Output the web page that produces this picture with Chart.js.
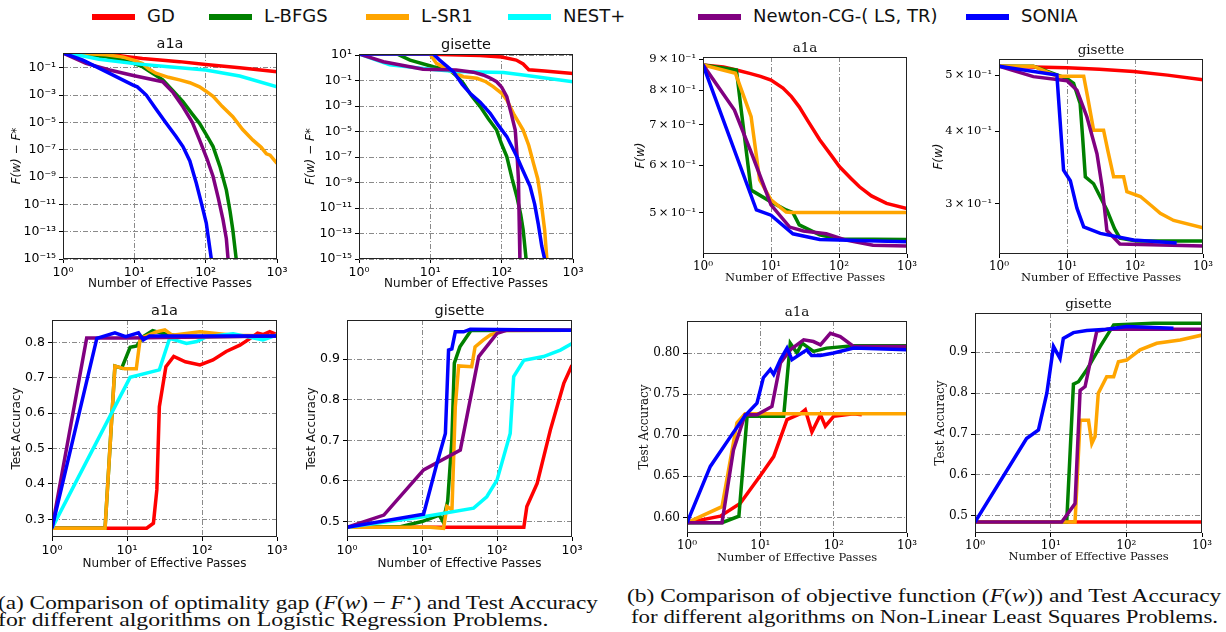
<!DOCTYPE html>
<html>
<head>
<meta charset="utf-8">
<script src="https://cdn.jsdelivr.net/npm/chart.js@4.4.1/dist/chart.umd.min.js"></script>
<style>
  body { margin: 0; width: 1226px; height: 632px; background: #fff; position: relative; overflow: hidden; }
  canvas { position: absolute; }
  .leg-bar { position: absolute; height: 6px; width: 43px; top: 14px; }
  .leg-txt { position: absolute; top: 5px; font: 18px 'DejaVu Sans', sans-serif; color: #111; white-space: nowrap; }
  .cap { position: absolute; font: 19px 'Liberation Serif', serif; color: #111; white-space: nowrap;
         line-height: 21px; transform-origin: 0 0; }
</style>
</head>
<body>
<div id="legend"></div>

<div class="cap" style="left:-2px;top:588px" data-w="600">(a) Comparison of optimality gap (<i>F</i>(<i>w</i>)&thinsp;−&thinsp;<i>F</i><sup style="font-size:11px">⋆</sup>) and Test Accuracy</div>
<div class="cap" style="left:-2px;top:609px" data-w="550">for different algorithms on Logistic Regression Problems.</div>
<div class="cap" style="left:627px;top:585px" data-w="595">(b) Comparison of objective function (<i>F</i>(<i>w</i>)) and Test Accuracy</div>
<div class="cap" style="left:631px;top:606px" data-w="587">for different algorithms on Non-Linear Least Squares Problems.</div>

<script>
const algos = ['GD', 'L-BFGS', 'L-SR1', 'NEST+', 'Newton-CG-( LS, TR)', 'SONIA'];
const colors = ['#ff0000', '#008000', '#ffa500', '#00ffff', '#800080', '#0000ff'];
const legendX = [92, 209, 366, 508, 698, 966];
const xTicks = [1, 10, 100, 1000];
const xTickLabels = ['10⁰', '10¹', '10²', '10³'];

// optimality gap, a1a (logistic regression)
const gapA1a = [
  [[1,1.2],[2,1.15],[3,1.1],[5,0.9],[8,0.65],[13,0.48],[25,0.36],[43,0.28],[100,0.17],[300,0.1],[1000,0.051]],
  [[1,1.2],[2,0.9],[4,0.63],[8,0.3],[13,0.12],[18,0.04],[25,0.013],[35,0.002],[48,3.3e-4],[65,4e-5],[82,8.5e-6],[100,1.5e-6],[127,1.7e-7],[160,5e-9],[195,1.1e-10],[220,3e-12],[240,1.4e-13],[268,1e-15]],
  [[1,1.2],[2,1.1],[4,0.9],[7,0.6],[10,0.35],[13,0.2],[16,0.08],[20,0.04],[30,0.02],[43,0.013],[60,0.008],[82,0.004],[100,0.002],[127,8e-4],[170,1.5e-4],[240,2.6e-5],[330,3e-6],[460,5e-7],[600,1.5e-7],[710,5e-8],[800,4e-8],[1000,1e-8]],
  [[1,1.2],[2,0.7],[3.2,0.42],[10,0.2],[30,0.12],[100,0.068],[300,0.025],[1000,0.004]],
  [[1,1.2],[2.1,0.21],[4.5,0.068],[10,0.026],[25,0.0095],[35,0.0015],[48,1.4e-4],[65,1e-5],[82,5.2e-7],[105,2e-8],[127,1.1e-9],[150,3e-11],[175,7.6e-13],[195,3e-14],[206,1e-15]],
  [[1,1.2],[1.9,0.36],[4.5,0.039],[9.6,0.0054],[11,0.004],[14.7,1e-3],[20,1e-4],[28,8.5e-6],[38,1e-6],[48,1.7e-7],[60,1.5e-8],[74,3.5e-10],[88,1e-11],[102,4.3e-13],[120,1e-15]]
];

// optimality gap, gisette
const gapGis = [
  [[1,12],[10,11.5],[50,9],[100,7],[160,4],[200,2],[240,0.7],[400,0.55],[1000,0.36]],
  [[1,12],[3.4,12],[5.2,4],[11,1.2],[19,0.59],[24,0.2],[29,0.06],[38,0.006],[50,9e-4],[65,1e-4],[85,1.3e-5],[100,1e-6],[118,1.1e-7],[140,2e-9],[163,8e-11],[185,3e-12],[200,2e-13],[220,1e-15]],
  [[1,12],[9.9,12],[12.2,2.2],[20,0.5],[29,0.2],[45,0.15],[60,0.08],[76,0.033],[100,0.01],[118,3e-3],[150,2e-4],[200,1.3e-5],[240,8e-7],[280,3e-8],[320,2e-9],[350,8e-11],[400,2e-13],[430,1e-15]],
  [[1,12],[2.7,1.7],[9.9,0.76],[23,0.5],[106,0.42],[200,0.27],[1000,0.08]],
  [[1,12],[2.2,3],[7.9,0.76],[23,0.67],[40,0.45],[55,0.27],[70,0.15],[85,0.08],[100,0.03],[118,5.5e-3],[135,3e-4],[155,1.3e-5],[165,1e-7],[172,1.6e-9],[176,1e-12],[180,1e-15]],
  [[1,12],[11,12],[13.5,4],[21,0.5],[28,0.05],[36,0.01],[50,2e-3],[69,2.7e-4],[90,3e-5],[118,4e-6],[163,1.1e-7],[200,8e-9],[250,5e-10],[290,2e-11],[325,6e-13],[365,1e-14],[400,1e-15]]
];

// test accuracy, a1a (logistic regression)
const accA1a = [
  [[1,0.275],[18.3,0.275],[22.5,0.289],[25,0.383],[27,0.618],[33,0.731],[42,0.76],[60,0.745],[94,0.736],[140,0.75],[210,0.774],[320,0.792],[440,0.811],[550,0.826],[650,0.822],[800,0.83],[1000,0.822]],
  [[1,0.275],[5.1,0.275],[6.9,0.733],[8.5,0.727],[11,0.786],[13.5,0.79],[16.5,0.816],[22,0.833],[30,0.825],[56,0.816],[1000,0.818]],
  [[1,0.275],[5.1,0.275],[6.9,0.733],[9.3,0.725],[13.3,0.725],[15,0.811],[25,0.83],[32,0.835],[40,0.82],[94,0.83],[260,0.82],[1000,0.818]],
  [[1,0.275],[11,0.701],[27,0.722],[37,0.811],[62,0.797],[85,0.802],[115,0.816],[260,0.824],[650,0.807],[1000,0.821]],
  [[1,0.275],[2.9,0.812],[10,0.812],[1000,0.818]],
  [[1,0.275],[3.96,0.811],[6.9,0.827],[9.6,0.816],[14.2,0.827],[16.5,0.807],[20,0.818],[1000,0.818]]
];

// test accuracy, gisette (logistic regression)
const accGis = [
  [[1,0.486],[228,0.486],[250,0.537],[343,0.594],[514,0.725],[777,0.84],[1000,0.885]],
  [[1,0.486],[5,0.487],[10,0.5],[17,0.516],[19,0.5],[22,0.55],[25,0.7],[27,0.89],[32,0.93],[45,0.97],[1000,0.971]],
  [[1,0.486],[12.9,0.486],[19.4,0.483],[21.5,0.537],[25.1,0.529],[27.8,0.783],[30.8,0.883],[46,0.881],[51,0.93],[66,0.947],[81,0.959],[122,0.97],[1000,0.971]],
  [[1,0.486],[10.5,0.512],[48.8,0.533],[73,0.561],[100,0.602],[150,0.717],[167,0.857],[228,0.897],[417,0.906],[700,0.922],[1000,0.938]],
  [[1,0.486],[3.1,0.516],[10.5,0.627],[32.4,0.676],[57,0.906],[100,0.963],[136,0.971],[1000,0.971]],
  [[1,0.486],[10.5,0.518],[15.8,0.643],[20.5,0.717],[22.6,0.922],[25,0.925],[27.8,0.967],[35.9,0.967],[44,0.973],[1000,0.971]]
];

// objective F(w), a1a (non-linear least squares), no NEST+
const objA1a = [
  [[1,0.881],[2,0.874],[3.1,0.864],[5,0.852],[7,0.843],[10,0.831],[15,0.806],[20,0.78],[26,0.75],[35,0.71],[52,0.661],[75,0.625],[102,0.596],[150,0.57],[200,0.552],[300,0.533],[500,0.518],[1000,0.508]],
  [[1,0.881],[3.1,0.864],[3.7,0.731],[5.1,0.545],[10,0.521],[16.7,0.505],[21,0.5],[26,0.477],[52,0.459],[100,0.452],[1000,0.451]],
  [[1,0.881],[3,0.853],[5.1,0.722],[6.8,0.567],[10,0.525],[16.7,0.501],[20,0.5],[1000,0.5]],
  null,
  [[1,0.881],[2.9,0.741],[5.4,0.62],[10,0.515],[18.8,0.473],[30,0.466],[65,0.461],[127,0.45],[316,0.441],[1000,0.44]],
  [[1,0.881],[6.1,0.505],[10,0.495],[21,0.461],[52,0.451],[1000,0.447]]
];

// objective F(w), gisette
const objGis = [
  [[1,0.518],[10,0.515],[30,0.512],[95,0.507],[300,0.5],[1000,0.491]],
  [[1,0.518],[3.2,0.518],[10,0.493],[12.5,0.484],[15.6,0.447],[17,0.39],[18.6,0.334],[24.6,0.325],[38.6,0.293],[50,0.272],[60,0.262],[106,0.259],[1000,0.259]],
  [[1,0.518],[3.2,0.518],[7.1,0.498],[17.6,0.498],[20,0.46],[24.6,0.402],[34.5,0.402],[40,0.37],[48.5,0.334],[68,0.334],[76,0.315],[120,0.309],[180,0.297],[235,0.289],[370,0.281],[1000,0.273]],
  null,
  [[1,0.518],[3.2,0.497],[10,0.489],[14,0.471],[19.6,0.424],[27.6,0.366],[33,0.32],[38.6,0.27],[60,0.256],[1000,0.254]],
  [[1,0.518],[7.1,0.5],[8.9,0.343],[11.2,0.329],[14,0.295],[17.6,0.274],[30.9,0.267],[95,0.26],[410,0.257]]
];

// test accuracy, a1a (non-linear least squares)
const accA1aB = [
  [[1,0.5935],[2.85,0.6015],[5.3,0.617],[10.2,0.652],[15.2,0.674],[23.1,0.719],[35,0.726],[41,0.731],[50.5,0.704],[66,0.725],[77,0.711],[100,0.723],[187,0.726],[242,0.725]],
  [[1,0.5935],[3,0.5935],[5.1,0.6015],[6.6,0.723],[20.8,0.723],[25.6,0.812],[31.6,0.8],[37,0.812],[53,0.802],[80,0.806],[187,0.809],[1000,0.809]],
  [[1,0.5935],[3,0.613],[4.8,0.715],[6.2,0.726],[1000,0.726]],
  null,
  [[1,0.5935],[3,0.5935],[4.3,0.682],[6.2,0.725],[9,0.725],[14.4,0.735],[18.8,0.788],[25.6,0.804],[39,0.816],[53,0.814],[66,0.81],[90,0.824],[123,0.82],[187,0.808],[1000,0.808]],
  [[1,0.5935],[2.08,0.662],[3.9,0.698],[6.2,0.724],[9,0.739],[11,0.77],[13.7,0.78],[15.2,0.774],[18.8,0.792],[23.1,0.806],[27,0.792],[43,0.804],[50,0.797],[66,0.797],[100,0.8],[187,0.806],[1000,0.804]]
];

// test accuracy, gisette (non-linear least squares)
const accGisB = [
  [[1,0.485],[1000,0.485]],
  [[1,0.485],[16.3,0.485],[20,0.822],[23.3,0.828],[30,0.857],[45,0.914],[68,0.967],[229,0.971],[1000,0.971]],
  [[1,0.485],[21,0.485],[24.5,0.734],[31.6,0.734],[35,0.677],[38.6,0.694],[42.6,0.8],[55,0.84],[68,0.84],[78.6,0.877],[101,0.881],[152,0.906],[252,0.922],[515,0.93],[1000,0.942]],
  null,
  [[1,0.485],[14,0.485],[21,0.53],[24.5,0.807],[28.5,0.816],[40.6,0.951],[55,0.956],[1000,0.956]],
  [[1,0.485],[4.8,0.689],[6.9,0.71],[8.9,0.8],[10.9,0.914],[13.3,0.885],[14.7,0.934],[20,0.948],[30,0.953],[55,0.956],[101,0.963],[420,0.959]]
];

const gapTicks = [1e1, 1e-1, 1e-3, 1e-5, 1e-7, 1e-9, 1e-11, 1e-13, 1e-15];
const objTicksA1a = [0.5, 0.6, 0.7, 0.8, 0.9];
const objTicksGis = [0.3, 0.4, 0.5];

const sup = { '0': '⁰', '1': '¹', '2': '²', '3': '³', '4': '⁴', '5': '⁵', '6': '⁶', '7': '⁷', '8': '⁸', '9': '⁹', '-': '⁻' };
function powLabel(v) {
  const e = Math.round(Math.log10(v));
  return '10' + String(e).split('').map(c => sup[c]).join('');
}
function mantLabel(v) {
  return Math.round(v * 10) + '\u2009×\u200910⁻¹';
}

// legend
const legend = document.getElementById('legend');
algos.forEach((name, i) => {
  const bar = document.createElement('div');
  bar.className = 'leg-bar';
  bar.style.left = legendX[i] + 'px';
  bar.style.background = colors[i];
  legend.appendChild(bar);
  const txt = document.createElement('div');
  txt.className = 'leg-txt';
  txt.style.left = (legendX[i] + 55) + 'px';
  txt.textContent = name;
  legend.appendChild(txt);
});

// frame + titles drawn inside the chart
const frameAndText = {
  id: 'frameAndText',
  afterDraw(chart, args, o) {
    const { ctx, chartArea: a } = chart;
    ctx.save();
    ctx.strokeStyle = '#222';
    ctx.lineWidth = 1;
    ctx.strokeRect(a.left + 0.5, a.top + 0.5, a.right - a.left - 1, a.bottom - a.top - 1);
    ctx.fillStyle = '#111';
    ctx.textAlign = 'center';
    ctx.textBaseline = 'middle';
    ctx.font = o.titleFont;
    ctx.fillText(o.title, (a.left + a.right) / 2, a.top - o.titleGap);
    ctx.font = o.labelFont;
    ctx.fillText('Number of Effective Passes', (a.left + a.right) / 2, a.bottom + o.xGap);
    ctx.translate(a.left - o.yGap, (a.top + a.bottom) / 2);
    ctx.rotate(-Math.PI / 2);
    ctx.font = o.yFont;
    ctx.fillText(o.yTitle, 0, 0);
    ctx.restore();
  }
};

const PADL = 72, PADT = 24, PADR = 16, PADB = 42;

function makePanel(p) {
  const w = p.R - p.L, h = p.B - p.T;
  const canvas = document.createElement('canvas');
  canvas.width = w + PADL + PADR;
  canvas.height = h + PADT + PADB;
  canvas.style.left = (p.L - PADL) + 'px';
  canvas.style.top = (p.T - PADT) + 'px';
  document.body.appendChild(canvas);

  const serif = p.serif;
  const family = serif ? "'DejaVu Serif', serif" : "'DejaVu Sans', sans-serif";
  const tickFont = { family: family, size: serif ? (p.yType === 'logarithmic' ? 11.5 : 12) : 12.5 };
  const gridColor = '#8a8a8a';

  const datasets = [];
  p.data.forEach((series, i) => {
    if (!series) return;
    datasets.push({
      label: algos[i],
      data: series.map(d => ({ x: d[0], y: d[1] })),
      borderColor: colors[i],
      backgroundColor: colors[i],
      borderWidth: 3.5,
      pointRadius: 0,
      tension: 0,
      order: 10 - i
    });
  });

  new Chart(canvas, {
    type: 'line',
    data: { datasets: datasets },
    plugins: [frameAndText],
    options: {
      responsive: false,
      animation: false,
      devicePixelRatio: 1,
      layout: { padding: { left: 0, top: PADT, right: PADR, bottom: 0 } },
      plugins: {
        legend: { display: false },
        tooltip: { enabled: false },
        frameAndText: {
          title: p.title,
          titleFont: (serif ? '13.5px ' : '14.5px ') + family,
          titleGap: 9,
          labelFont: (serif ? '11.5px ' : '12px ') + family,
          xGap: p.xGap,
          yGap: p.yGap,
          yTitle: p.yTitle,
          yFont: p.yItalic ? "italic 12px 'DejaVu Sans', sans-serif" : '12px ' + family
        }
      },
      scales: {
        x: {
          type: 'logarithmic',
          min: 1,
          max: 1000,
          afterFit: s => { s.height = PADB; },
          afterBuildTicks: s => { s.ticks = xTicks.map(v => ({ value: v })); },
          ticks: {
            autoSkip: false,
            maxRotation: 0,
            color: '#000',
            font: { family: family, size: serif ? 12 : 12.5 },
            padding: 2,
            callback: (v, idx) => xTickLabels[xTicks.indexOf(v)]
          },
          grid: {
            color: c => (c.tick && (c.tick.value === 1 || c.tick.value === 1000)) ? 'rgba(0,0,0,0)' : gridColor,
            tickColor: '#000',
            tickLength: 4,
            lineWidth: 1
          },
          border: { display: false, dash: [5, 2, 1, 2] }
        },
        y: {
          type: p.yType,
          min: p.yMin,
          max: p.yMax,
          afterFit: s => { s.width = PADL; },
          afterBuildTicks: s => { s.ticks = p.yTicks.map(v => ({ value: v })); },
          ticks: {
            autoSkip: false,
            color: '#000',
            font: tickFont,
            padding: 3,
            callback: v => p.yLabel(v)
          },
          grid: {
            display: true,
            color: p.yGrid ? gridColor : 'rgba(0,0,0,0)',
            tickColor: '#000',
            tickLength: 4,
            lineWidth: 1
          },
          border: { display: false, dash: [5, 2, 1, 2] }
        }
      }
    }
  });
}

const gapLabel = v => powLabel(v);
const acc1 = v => v.toFixed(1);
const acc2 = v => v.toFixed(2);

makePanel({ L: 63, R: 277, T: 53, B: 259, title: 'a1a', data: gapA1a, yType: 'logarithmic', yMin: 1e-15, yMax: 1.2,
  yTicks: gapTicks.slice(1), yLabel: gapLabel, yGrid: true, yTitle: 'F(w) − F*', yItalic: true, yGap: 46, xGap: 25 });
makePanel({ L: 359, R: 573, T: 54, B: 259, title: 'gisette', data: gapGis, yType: 'logarithmic', yMin: 1e-15, yMax: 12,
  yTicks: gapTicks, yLabel: gapLabel, yGrid: true, yTitle: 'F(w) − F*', yItalic: true, yGap: 48, xGap: 25 });
makePanel({ L: 703, R: 907, T: 57, B: 254, title: 'a1a', data: objA1a, yType: 'logarithmic', yMin: 0.4266, yMax: 0.908,
  yTicks: objTicksA1a, yLabel: mantLabel, yGrid: false, yTitle: 'F(w)', yItalic: true, yGap: 62, xGap: 24, serif: true });
makePanel({ L: 999, R: 1203, T: 59, B: 254, title: 'gisette', data: objGis, yType: 'logarithmic', yMin: 0.246, yMax: 0.533,
  yTicks: objTicksGis, yLabel: mantLabel, yGrid: false, yTitle: 'F(w)', yItalic: true, yGap: 60, xGap: 24, serif: true });
makePanel({ L: 52, R: 277, T: 320, B: 537, title: 'a1a', data: accA1a, yType: 'linear', yMin: 0.25, yMax: 0.863,
  yTicks: [0.3, 0.4, 0.5, 0.6, 0.7, 0.8], yLabel: acc1, yGrid: true, yTitle: 'Test Accuracy', yGap: 35, xGap: 27 });
makePanel({ L: 347, R: 572, T: 320, B: 537, title: 'gisette', data: accGis, yType: 'linear', yMin: 0.462, yMax: 0.996,
  yTicks: [0.5, 0.6, 0.7, 0.8, 0.9], yLabel: acc1, yGrid: true, yTitle: 'Test Accuracy', yGap: 35, xGap: 27 });
makePanel({ L: 687, R: 907, T: 321, B: 533, title: 'a1a', data: accA1aB, yType: 'linear', yMin: 0.581, yMax: 0.839,
  yTicks: [0.6, 0.65, 0.7, 0.75, 0.8], yLabel: acc2, yGrid: true, yTitle: 'Test Accuracy', yGap: 42, xGap: 25, serif: true });
makePanel({ L: 975, R: 1202, T: 313, B: 533, title: 'gisette', data: accGisB, yType: 'linear', yMin: 0.458, yMax: 0.996,
  yTicks: [0.5, 0.6, 0.7, 0.8, 0.9], yLabel: acc1, yGrid: true, yTitle: 'Test Accuracy', yGap: 34, xGap: 24, serif: true });

// fit captions to their measured widths
document.querySelectorAll('.cap').forEach(el => {
  const target = parseFloat(el.dataset.w);
  const k = target / el.offsetWidth;
  el.style.transform = 'scaleX(' + k.toFixed(3) + ')';
});
</script>
</body>
</html>
